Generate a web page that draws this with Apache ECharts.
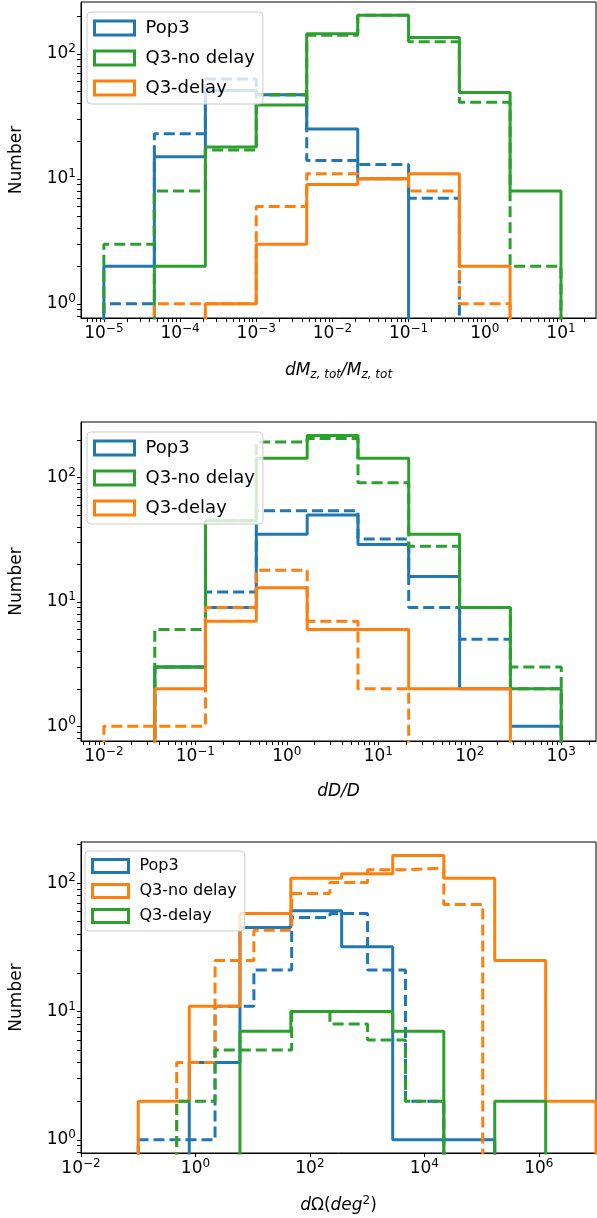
<!DOCTYPE html>
<html><head><meta charset="utf-8">
<script src="https://cdn.jsdelivr.net/npm/echarts@6/dist/echarts.min.js"></script>
<style>html,body{margin:0;padding:0;background:#fff}#c{width:597px;height:1218px}</style>
</head><body><div id="c"></div>
<script>
// bin edges
var edges1 = [1e-5, 4.6e-5, 2.15e-4, 1e-3, 4.6e-3, 0.0215, 0.1, 0.464, 2.15, 10];
var pop3_1 = [2, 15, 51, 47, 25, 10, 0, 0, 0];
var pop3_1d = [1, 23, 63, 47, 14, 13, 7, 0, 0];
var q3nd_1 = [0, 2, 18, 39, 145, 204, 135, 49, 8];
var q3nd_1d = [3, 8, 17, 47, 141, 204, 125, 41, 2];
var q3d_1 = [0, 0, 1, 3, 9, 10, 11, 2, 0];
var q3d_1d = [0, 1, 1, 6, 11, 10, 8, 1, 0];

var edges2 = [0.01, 0.036, 0.129, 0.464, 1.67, 6.0, 21.5, 77.4, 278, 1000];
var pop3_2 = [0, 3, 9, 35, 50, 29, 16, 2, 1];
var pop3_2d = [0, 3, 12, 54, 54, 32, 9, 5, 2];
var q3nd_2 = [0, 3, 45, 143, 218, 143, 35, 9, 2];
var q3nd_2d = [0, 6, 45, 193, 206, 91, 28, 9, 3];
var q3d_2 = [0, 2, 7, 13, 6, 6, 2, 2, 0];
var q3d_2d = [1, 1, 9, 18, 7, 2, 0, 0, 0];

var edges3 = [0.1, 0.78, 6.0, 46.4, 359, 2800, 21900, 170000, 1.32e6, 1e7];
var edges3d = [0.1, 0.47, 2.2, 10.5, 48, 224, 1020, 4680, 21900, 105000];
var pop3_3 = [0, 4, 45, 61, 32, 1, 1, 0, 0];
var pop3_3d = [1, 1, 11, 21, 54, 58, 21, 2, 0];
var q3nd_3 = [2, 11, 58, 109, 118, 164, 109, 25, 2];
var q3nd_3d = [0, 4, 25, 43, 83, 101, 127, 131, 68];
var q3d_3 = [0, 0, 7, 10, 10, 7, 0, 2, 0];
var q3d_3d = [0, 2, 5, 5, 10, 8, 6, 2, 0];

var BLUE = '#1f77b4', ORANGE = '#ff7f0e', GREEN = '#2ca02c';
var LOW = 0.01;
var FONT = 'DejaVu Sans';

function stepPts(edges, counts) {
    var pts = [[edges[0], LOW]];
    for (var i = 0; i < counts.length; i++) {
        var c = counts[i] > 0 ? counts[i] : LOW;
        pts.push([edges[i], c]);
        pts.push([edges[i + 1], c]);
    }
    pts.push([edges[edges.length - 1], LOW]);
    return pts;
}

function sup(v) {
    var e = Math.round(Math.log10(v));
    return '{n|10}{s|' + (e < 0 ? '\u2212' + (-e) : e) + '}';
}
var supRich = {
    n: {fontSize: 17, fontFamily: FONT, color: '#000'},
    s: {fontSize: 12, padding: [0, 0, 10, 0], fontFamily: FONT, color: '#000'}
};

function minors(lo, hi, rng) {
    var out = [];
    for (var e = lo; e < hi; e++) for (var k = 2; k <= 9; k++) {
        var v = k * Math.pow(10, e);
        if (v > rng[0] && v < rng[1]) out.push(v);
    }
    return out;
}

var grids = [
    {left: 77, right: 1, top: 2, height: 316},
    {left: 77, right: 1, top: 422, height: 319},
    {left: 77, right: 1, top: 842, height: 311}
];
var xr = [[Math.pow(10, -5.3), Math.pow(10, 1.46)], [Math.pow(10, -2.25), Math.pow(10, 3.38)], [0.01, 1e7]];
var yr = [[0.77, 260], [0.76, 280], [0.79, 209]];
var xMajor = [[1e-5, 1e-4, 1e-3, 1e-2, 0.1, 1, 10], [0.01, 0.1, 1, 10, 100, 1000], [0.01, 1, 100, 1e4, 1e6]];
var xMinor = [minors(-6, 2, xr[0]), minors(-3, 4, xr[1]), []];
var xNames = [
    '{i|dM}{b|z, tot}{i|/M}{b|z, tot}',
    '{i|dD/D}',
    '{i|d}{n|\u03a9(}{i|deg}{p|2}{n|)}'
];

var xAxes = [], yAxes = [];
for (var g = 0; g < 3; g++) {
    xAxes.push({
        type: 'log', gridIndex: g, min: xr[g][0], max: xr[g][1], position: 'bottom',
        axisLine: {lineStyle: {color: '#000', width: 1}},
        axisTick: {show: true, length: 4, lineStyle: {color: '#000'}, customValues: xMajor[g].concat(xMinor[g])},
        axisLabel: {customValues: xMajor[g], formatter: sup, fontSize: 17, fontFamily: FONT, color: '#000', rich: supRich, margin: 5},
        splitLine: {show: false},
        name: xNames[g], nameLocation: 'middle', nameGap: 42,
        nameTextStyle: {fontSize: 17, fontFamily: FONT, color: '#000', rich: {
            i: {fontStyle: 'italic', fontSize: 17, fontFamily: FONT, color: '#000'},
            n: {fontSize: 17, fontFamily: FONT, color: '#000'},
            b: {fontStyle: 'italic', fontSize: 12, fontFamily: FONT, color: '#000', padding: [9, 0, 0, 0]},
            p: {fontSize: 12, fontFamily: FONT, color: '#000', padding: [0, 0, 10, 0]}
        }}
    });
    yAxes.push({
        type: 'log', gridIndex: g, min: yr[g][0], max: yr[g][1], position: 'left',
        axisLine: {show: true, lineStyle: {color: '#000', width: 1}},
        axisTick: {show: true, length: 4, lineStyle: {color: '#000'}, customValues: [1, 10, 100].concat(minors(-1, 3, yr[g]))},
        axisLabel: {customValues: [1, 10, 100], formatter: sup, fontSize: 17, fontFamily: FONT, color: '#000', rich: supRich, margin: 5},
        splitLine: {show: false},
        name: 'Number', nameLocation: 'middle', nameGap: 56, nameRotate: 90,
        nameTextStyle: {fontSize: 17, fontFamily: FONT, color: '#000'}
    });
}

var series = [];
function addHist(g, name, color, edges, counts, dashed) {
    series.push({
        name: name, type: 'line', xAxisIndex: g, yAxisIndex: g,
        data: stepPts(edges, counts), symbol: 'none', clip: true, animation: false,
        lineStyle: {color: color, width: 3, type: dashed ? [11, 5] : 'solid'},
        itemStyle: {color: color}
    });
}
addHist(0, 'Pop3', BLUE, edges1, pop3_1);
addHist(0, 'Pop3 d', BLUE, edges1, pop3_1d, true);
addHist(0, 'Q3-no delay', GREEN, edges1, q3nd_1);
addHist(0, 'Q3-no delay d', GREEN, edges1, q3nd_1d, true);
addHist(0, 'Q3-delay', ORANGE, edges1, q3d_1);
addHist(0, 'Q3-delay d', ORANGE, edges1, q3d_1d, true);
addHist(1, 'Pop3', BLUE, edges2, pop3_2);
addHist(1, 'Pop3 d', BLUE, edges2, pop3_2d, true);
addHist(1, 'Q3-no delay', GREEN, edges2, q3nd_2);
addHist(1, 'Q3-no delay d', GREEN, edges2, q3nd_2d, true);
addHist(1, 'Q3-delay', ORANGE, edges2, q3d_2);
addHist(1, 'Q3-delay d', ORANGE, edges2, q3d_2d, true);
addHist(2, 'Pop3', BLUE, edges3, pop3_3);
addHist(2, 'Pop3 d', BLUE, edges3d, pop3_3d, true);
addHist(2, 'Q3-no delay 3', ORANGE, edges3, q3nd_3);
addHist(2, 'Q3-no delay 3d', ORANGE, edges3d, q3nd_3d, true);
addHist(2, 'Q3-delay 3', GREEN, edges3, q3d_3);
addHist(2, 'Q3-delay 3d', GREEN, edges3d, q3d_3d, true);

function legItem(name, color) {
    return {name: name, icon: 'rect', itemStyle: {color: '#fff', borderColor: color, borderWidth: 3}};
}
function legend(top, left, names, colors, fs, iw, ih, gap) {
    return {
        top: top, left: left, orient: 'vertical', selectedMode: false,
        itemWidth: iw, itemHeight: ih, itemGap: gap,
        backgroundColor: 'rgba(255,255,255,0.8)', borderColor: '#ccc', borderWidth: 1, borderRadius: 4,
        padding: [7, 8, 7, 6],
        textStyle: {fontSize: fs, fontFamily: FONT, color: '#000', padding: [0, 0, 0, 6]},
        data: names.map(function (n, i) { return legItem(n, colors[i]); })
    };
}

var option = {
    animation: false,
    grid: grids.map(function (g) { return Object.assign({show: true, borderColor: '#000', borderWidth: 1}, g); }),
    xAxis: xAxes, yAxis: yAxes,
    legend: [
        legend(12, 87, ['Pop3', 'Q3-no delay', 'Q3-delay'], [BLUE, GREEN, ORANGE], 18, 40, 14, 12),
        legend(432, 87, ['Pop3', 'Q3-no delay', 'Q3-delay'], [BLUE, GREEN, ORANGE], 18, 40, 14, 12),
        legend(851, 85, ['Pop3', 'Q3-no delay 3', 'Q3-delay 3'], [BLUE, ORANGE, GREEN], 16, 36, 13, 9)
    ],
    series: series
};
option.legend[2].formatter = function (n) { return n.replace(/ 3$/, ''); };

var myChart = echarts.init(document.getElementById('c'));
myChart.setOption(option);
</script>
</body></html>
